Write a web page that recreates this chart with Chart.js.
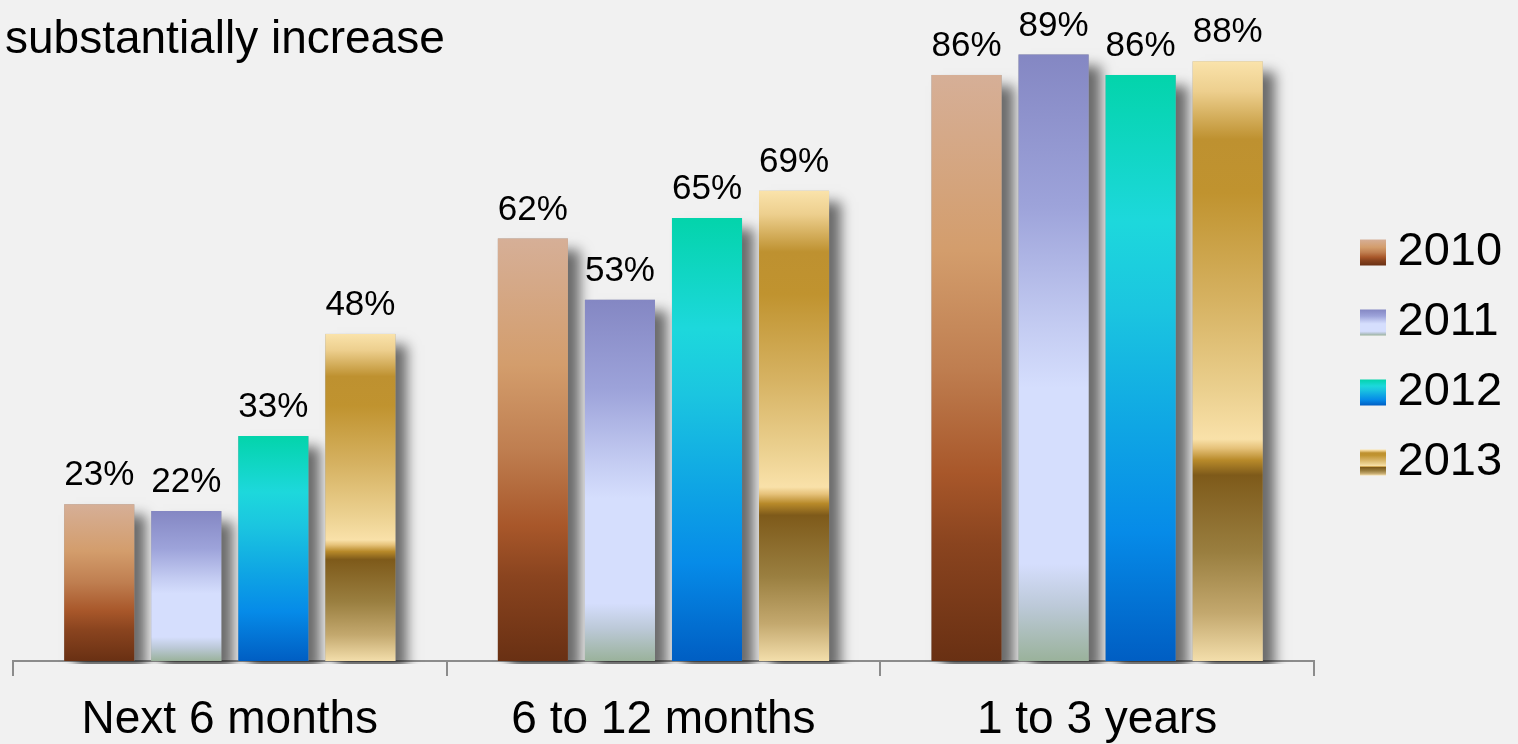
<!DOCTYPE html>
<html>
<head>
<meta charset="utf-8">
<script src="https://cdn.jsdelivr.net/npm/chart.js@4.4.1/dist/chart.umd.min.js"></script>
<style>
  html, body { margin: 0; padding: 0; background: #f1f1f1; overflow: hidden; }
  canvas { display: block; }
</style>
</head>
<body>
<canvas id="chart" width="1518" height="744"></canvas>
<script>
// ---- data ----
const categories = ['Next 6 months', '6 to 12 months', '1 to 3 years'];
const seriesNames = ['2010', '2011', '2012', '2013'];
const values2010 = [23, 62, 86];
const values2011 = [22, 53, 89];
const values2012 = [33, 65, 86];
const values2013 = [48, 69, 88];
const titleText = 'substantially increase';
const valueSuffix = '%';

// ---- styling ----
const FONT = '"Liberation Sans", Arial, Helvetica, sans-serif';

// vertical colour ramps for each series, 0 = top of bar, 1 = bottom
const ramps = {
  '2010': [[0, '#d6af97'], [0.3, '#d39d6c'], [0.5, '#bf7e50'], [0.68, '#a8572a'], [0.8, '#8a441f'], [1, '#693013']],
  '2011': [[0, '#8487c3'], [0.25, '#9da3da'], [0.45, '#c4ccf2'], [0.55, '#d5defd'], [0.84, '#d5defd'], [0.91, '#bcc9d8'], [1, '#9ab29b']],
  '2012': [[0, '#03d4ab'], [0.25, '#1dd8dc'], [0.4, '#1bc5e0'], [0.6, '#0fa6e4'], [0.78, '#068be8'], [1, '#005ec3']],
  '2013': [[0, '#fae3ab'], [0.05, '#edcf8e'], [0.13, '#be9130'], [0.22, '#c0932f'], [0.4, '#d6b262'], [0.55, '#ebd08f'],
           [0.63, '#f9e1a9'], [0.645, '#e6c27a'], [0.665, '#b88a2a'], [0.69, '#7e5a1a'], [0.82, '#9a7f40'], [0.92, '#c3a86e'], [1, '#f3deab']]
};

function rampGradient(ctx, name, top, bottom) {
  const g = ctx.createLinearGradient(0, top, 0, bottom);
  ramps[name].forEach(([t, c]) => g.addColorStop(t, c));
  return g;
}

// bar fill: gradient stretched over the bar's own height
function barFill(name) {
  return (c) => {
    const chart = c.chart;
    if (c.type !== 'data' || !c.parsed || !chart.chartArea || !chart.scales.y) {
      return ramps[name][Math.floor(ramps[name].length / 2)][1];
    }
    const ys = chart.scales.y;
    return rampGradient(chart.ctx, name, ys.getPixelForValue(c.parsed.y), ys.getPixelForValue(0));
  };
}

const seriesValues = [values2010, values2011, values2012, values2013];

// legend placement
const LEGEND_BOX_X = 1360;
const LEGEND_FIRST_Y = 229;
const LEGEND_FONT = 47;
const LEGEND_PAD = 23;
const LEGEND_SWATCH = 26;

// drop shadows behind each bar
const barShadows = {
  id: 'barShadows',
  beforeDatasetsDraw(chart) {
    const ctx = chart.ctx;
    const area = chart.chartArea;
    ctx.save();
    ctx.beginPath();
    ctx.rect(0, 0, chart.width, area.bottom + 3);
    ctx.clip();
    ctx.shadowColor = 'rgba(0,0,0,0.56)';
    ctx.shadowBlur = 12;
    ctx.shadowOffsetX = 12;
    ctx.shadowOffsetY = 11;
    ctx.fillStyle = '#9a9a9a';
    chart.data.datasets.forEach((ds, i) => {
      chart.getDatasetMeta(i).data.forEach(bar => {
        const p = bar.getProps(['x', 'y', 'base', 'width'], true);
        ctx.fillRect(p.x - p.width / 2, p.y, p.width, p.base - p.y);
      });
    });
    ctx.restore();
  }
};

// value labels above the bars
const valueLabels = {
  id: 'valueLabels',
  afterDatasetsDraw(chart) {
    const ctx = chart.ctx;
    ctx.save();
    ctx.font = '35px ' + FONT;
    ctx.fillStyle = '#000';
    ctx.textAlign = 'center';
    ctx.textBaseline = 'alphabetic';
    chart.data.datasets.forEach((ds, i) => {
      chart.getDatasetMeta(i).data.forEach((bar, j) => {
        const p = bar.getProps(['x', 'y'], true);
        ctx.fillText(ds.data[j] + valueSuffix, p.x, p.y - 19);
      });
    });
    ctx.restore();
  }
};

// heading text in the top-left corner
const heading = {
  id: 'heading',
  afterDraw(chart) {
    const ctx = chart.ctx;
    ctx.save();
    ctx.font = '46px ' + FONT;
    ctx.fillStyle = '#000';
    ctx.textAlign = 'left';
    ctx.textBaseline = 'alphabetic';
    ctx.fillText(titleText, 5, 53);
    ctx.restore();
  }
};

// legend: move the block into place, then paint gradient swatches
const legendPlacement = {
  id: 'legendPlacement',
  afterLayout(chart) {
    const lg = chart.legend;
    if (!lg || !lg.columnSizes || !lg.columnSizes.length) return;
    const colH = lg.columnSizes[0].height;
    const m = 30;
    lg.left = LEGEND_BOX_X - LEGEND_PAD;
    lg.right = chart.width;
    lg.top = LEGEND_FIRST_Y - LEGEND_PAD - m;
    lg.bottom = LEGEND_FIRST_Y + colH + m;
  },
  afterDraw(chart) {
    const ctx = chart.ctx;
    const itemH = Math.max(LEGEND_FONT, LEGEND_SWATCH);
    chart.data.datasets.forEach((ds, i) => {
      const y = LEGEND_FIRST_Y + i * (itemH + LEGEND_PAD) + (itemH - LEGEND_SWATCH) / 2;
      ctx.fillStyle = rampGradient(ctx, ds.label, y, y + LEGEND_SWATCH);
      ctx.fillRect(LEGEND_BOX_X, y, LEGEND_SWATCH, LEGEND_SWATCH);
    });
  }
};

Chart.defaults.font.family = FONT;

new Chart(document.getElementById('chart'), {
  type: 'bar',
  data: {
    labels: categories,
    datasets: seriesNames.map((name, i) => ({
      label: name,
      data: seriesValues[i],
      backgroundColor: barFill(name),
      borderWidth: 0,
      categoryPercentage: 0.803,
      barPercentage: 0.805
    }))
  },
  options: {
    responsive: false,
    animation: false,
    events: [],
    layout: { padding: { left: 13, top: 0, right: 29, bottom: 0 } },
    scales: {
      x: {
        grid: {
          offset: true,
          drawOnChartArea: false,
          drawTicks: true,
          tickLength: 15,
          color: '#8c8c8c',
          lineWidth: 2
        },
        border: { display: true, color: '#8c8c8c', width: 2 },
        ticks: { font: { size: 46 }, color: '#000', padding: 17, maxRotation: 0 },
        afterFit(scale) { scale.height = 83; }
      },
      y: { display: false, min: 0, max: 97 }
    },
    plugins: {
      title: { display: false },
      tooltip: { enabled: false },
      legend: {
        position: 'right',
        maxWidth: 205,
        labels: {
          font: { size: LEGEND_FONT },
          color: '#000',
          boxWidth: 14,
          boxHeight: LEGEND_SWATCH,
          padding: LEGEND_PAD,
          generateLabels(chart) {
            return Chart.defaults.plugins.legend.labels.generateLabels(chart).map(item =>
              Object.assign(item, { fillStyle: 'rgba(0,0,0,0)', strokeStyle: 'rgba(0,0,0,0)', lineWidth: 0 }));
          }
        }
      }
    }
  },
  plugins: [barShadows, valueLabels, heading, legendPlacement]
});
</script>
</body>
</html>
